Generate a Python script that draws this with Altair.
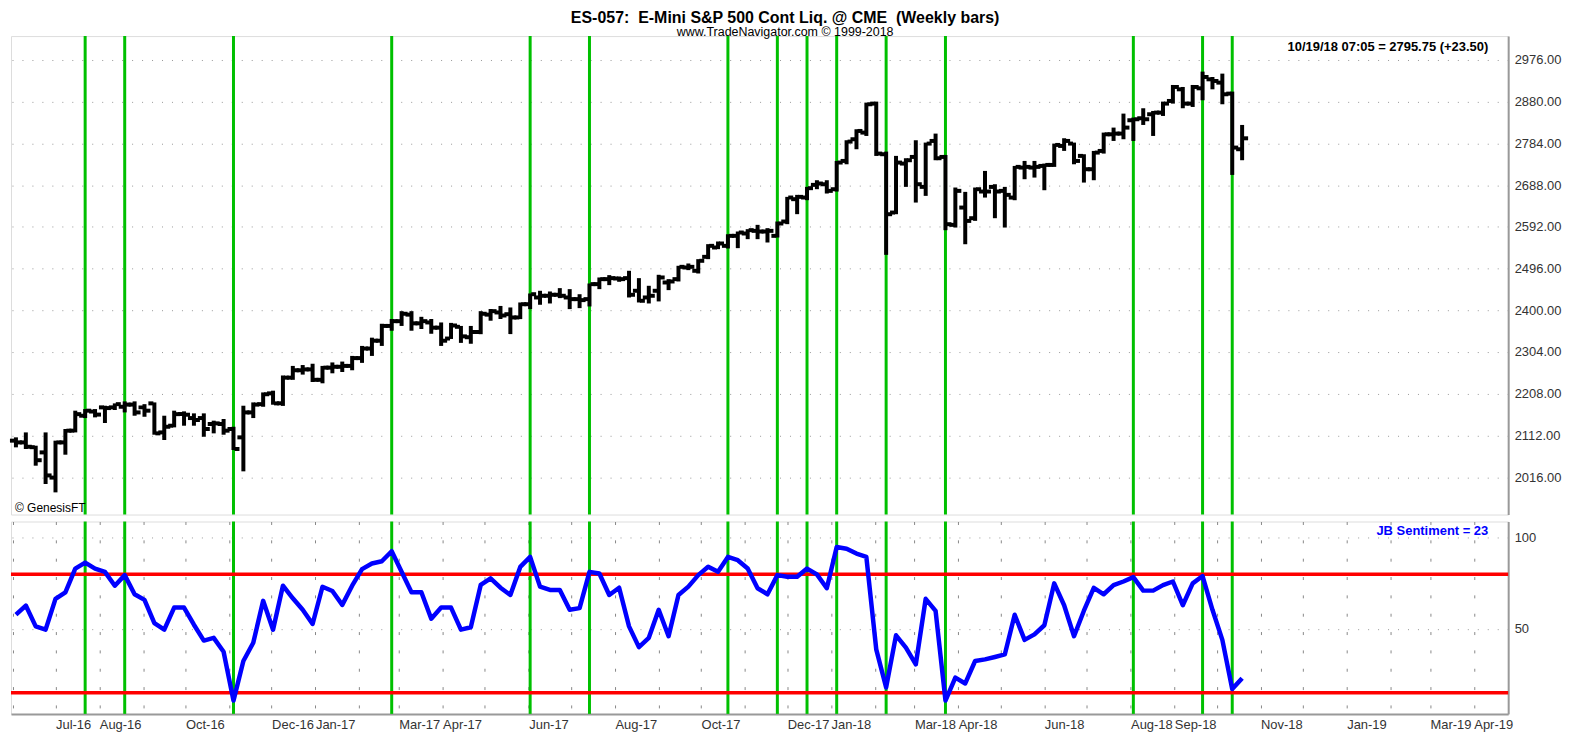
import altair as alt
import pandas as pd

# ---------------- data ----------------
N_BARS = 125
bar_dates = pd.date_range(end="2018-10-19", periods=N_BARS, freq="7D").strftime("%Y-%m-%d").tolist()

opens = [2100, 2096, 2085, 2073, 2015, 2096, 2123, 2157.4, 2167, 2176.6,
         2176.6, 2178, 2183, 2176.6, 2185.8, 2119, 2134.4, 2161.3, 2152, 2152,
         2138.3, 2138.3, 2126.8, 2107.6, 2165, 2184, 2208.8, 2186, 2245, 2262,
         2264, 2240, 2268, 2270, 2272, 2290, 2312, 2330, 2364, 2375,
         2390, 2370, 2372, 2360, 2335, 2362, 2338, 2350, 2390, 2395,
         2391, 2383.5, 2414, 2429.5, 2433.4, 2435.7, 2429.5, 2425.7, 2425.7, 2460.2,
         2471.7, 2473.2, 2474, 2444.9, 2429.5, 2444.9, 2464, 2471.7, 2498.5, 2490.9,
         2523, 2544.5, 2548.3, 2571.3, 2576.7, 2582.8, 2581.3, 2571.3, 2604.3, 2655.7,
         2659.5, 2688.6, 2690, 2678.6, 2743.7, 2793.6, 2808.9, 2875.6, 2759.1, 2624.9,
         2737.6, 2752.9, 2684, 2789.7, 2752.9, 2596.6, 2636.4, 2611.9, 2673.3, 2683.9,
         2674.8, 2659.4, 2728.4, 2728.4, 2732.2, 2734.5, 2778.2, 2783.6, 2755.3, 2724.6,
         2766.7, 2805, 2806.6, 2837.3, 2841.9, 2851.1, 2854.9, 2881.7, 2908.5, 2875.6,
         2910.8, 2931.5, 2923.9, 2898.6, 2770.6]
highs = [2107.6, 2119, 2088.4, 2119, 2100, 2126.8, 2169, 2172.7, 2172.7, 2180.4,
         2185.8, 2190.4, 2190.4, 2184, 2188, 2157.4, 2169, 2167.4, 2162.8, 2162.8,
         2146, 2149.8, 2132, 2180.4, 2188, 2211, 2215, 2250, 2272, 2274,
         2277, 2272, 2280, 2282, 2295, 2318, 2337, 2369, 2380, 2398,
         2398, 2385, 2380, 2372, 2371, 2364, 2364, 2398, 2403, 2410,
         2406.5, 2418, 2438.7, 2444.9, 2443.3, 2451, 2448.7, 2437, 2461.7, 2475.5,
         2480.9, 2477.8, 2490.9, 2474, 2456.4, 2481.7, 2471.7, 2502.4, 2507.7, 2517.7,
         2552.2, 2558.3, 2575, 2581.3, 2586.7, 2596.6, 2589, 2604.3, 2661, 2665.6,
         2684, 2699.3, 2699.3, 2743.7, 2791.3, 2816.6, 2877.9, 2880.2, 2765.2, 2755.3,
         2749.9, 2791.3, 2785.9, 2806.6, 2757.5, 2682.5, 2672.5, 2682.5, 2720.7, 2690.1,
         2684, 2732.2, 2743.7, 2743.7, 2737.6, 2783.6, 2795.9, 2785.9, 2759.1, 2766.7,
         2808.9, 2820.4, 2852.6, 2843.4, 2864.9, 2858.7, 2880.2, 2918.5, 2913.9, 2918.5,
         2949.2, 2936.9, 2944.6, 2903.2, 2826.5]
lows = [2084.6, 2080.8, 2042.4, 2000.3, 1981, 2067.7, 2119, 2152, 2153.6, 2140.6,
        2170.5, 2165, 2157.4, 2155, 2113.7, 2101.5, 2130.6, 2134.4, 2134.4, 2109,
        2116.8, 2113.7, 2078.5, 2029.4, 2152, 2178, 2182.7, 2180, 2240, 2252,
        2235, 2232, 2255, 2258, 2262, 2279, 2295, 2318, 2353, 2364,
        2353, 2357, 2346, 2318, 2334, 2325, 2323, 2345, 2376, 2380,
        2345.2, 2379.7, 2402.7, 2412.7, 2415.7, 2428, 2402.7, 2405, 2408.8, 2448.7,
        2457.9, 2465.6, 2429.5, 2418, 2415.7, 2420.4, 2446.4, 2466.3, 2492.4, 2484.7,
        2517.7, 2540.7, 2542.2, 2543, 2563.7, 2563.7, 2556, 2567.5, 2598.2, 2621.2,
        2653.4, 2678.7, 2668.7, 2673.2, 2736, 2770.6, 2801.2, 2755.2, 2527.6, 2621.1,
        2684, 2647.9, 2663.3, 2745.3, 2584.3, 2590.4, 2552, 2605.8, 2659.4, 2611.9,
        2590.4, 2653.3, 2701.6, 2705.4, 2676.3, 2730, 2766.8, 2736, 2693.9, 2699.3,
        2760.6, 2789.7, 2793.6, 2789.7, 2826.5, 2801.2, 2847.2, 2875.6, 2864.9, 2867.9,
        2883.3, 2908.5, 2874.1, 2711.5, 2745.3]
closes = [2096, 2086, 2055, 2020, 2096, 2123, 2161, 2169, 2160, 2175,
          2184, 2183, 2165, 2169, 2116.8, 2132, 2161, 2159.7, 2147.5, 2126.8,
          2139.8, 2123, 2080.8, 2165, 2183, 2207, 2185.8, 2245, 2262, 2264,
          2240, 2268, 2270, 2272, 2290, 2312, 2330, 2364, 2375, 2392,
          2370, 2375, 2360, 2330, 2365, 2340, 2350, 2392, 2398, 2388,
          2383.5, 2414, 2437, 2433.4, 2435.7, 2433.4, 2425.7, 2423.4, 2460.2, 2471.7,
          2474, 2471.7, 2435.7, 2421.9, 2433.4, 2475.5, 2466.3, 2500, 2500, 2513.9,
          2548.3, 2553.7, 2571.3, 2579, 2584.4, 2581.3, 2582.8, 2599.7, 2659.5, 2661,
          2681, 2691.7, 2674.8, 2740, 2788.2, 2812.7, 2874.1, 2760.6, 2621.1, 2739.9,
          2745.3, 2690.1, 2783.6, 2749.9, 2598.1, 2674.8, 2605.7, 2678.6, 2673.3, 2673.3,
          2665.6, 2730, 2730, 2730, 2734.5, 2780.5, 2789.7, 2743.7, 2724.6, 2762.9,
          2805, 2806.6, 2820.4, 2839.6, 2839.6, 2854.9, 2875.6, 2913.9, 2875.6, 2913.9,
          2936.9, 2927.7, 2897.1, 2774.4, 2795.75]

sentiment = [57.8, 62.8, 51.4, 49.6, 66.5, 70.1, 83.1, 86.4, 83.1, 81.3,
             73.7, 79.5, 69.0, 65.9, 53.2, 49.6, 61.7, 61.7, 52.3, 43.6,
             45.1, 37.5, 10.7, 32.4, 42.4, 65.4, 49.6, 73.7, 66.8, 60.5,
             52.7, 73.1, 70.8, 63.2, 73.7, 82.8, 85.9, 87.1, 92.6, 81.3,
             70.1, 70.1, 55.6, 61.7, 61.7, 49.6, 50.9, 74.1, 77.7, 72.6,
             68.6, 84.0, 89.5, 73.2, 71.4, 71.4, 60.5, 61.4, 81.3, 80.4,
             68.6, 72.6, 51.4, 40.0, 45.1, 60.5, 46.0, 68.6, 73.2, 79.5,
             84.1, 81.3, 89.5, 87.7, 83.1, 72.3, 69.0, 79.5, 78.6, 78.6,
             83.1, 79.9, 72.3, 94.9, 94.0, 91.3, 89.5, 38.8, 17.9, 46.5,
             39.7, 30.6, 66.5, 59.9, 10.7, 23.3, 20.1, 32.4, 33.3, 34.6,
             36.0, 57.8, 44.0, 47.0, 52.0, 75.0, 63.0, 46.0, 60.0, 72.5,
             69.0, 74.0, 76.0, 78.4, 71.0, 71.0, 74.0, 76.0, 63.0, 75.0,
             79.0, 60.5, 44.0, 17.0, 23.0]

signal_dates = ["2016-07-22", "2016-08-19", "2016-11-04", "2017-02-24", "2017-06-02",
                "2017-07-14", "2017-10-20", "2017-11-24", "2017-12-15", "2018-01-05",
                "2018-02-09", "2018-03-23", "2018-08-03", "2018-09-21", "2018-10-12"]

band_levels = [80, 15]
price_ticks = [2016, 2112, 2208, 2304, 2400, 2496, 2592, 2688, 2784, 2880, 2976]
sentiment_ticks = [50, 100]
label_months = ["Jul-16", "Aug-16", "Oct-16", "Dec-16", "Jan-17", "Mar-17", "Apr-17",
                "Jun-17", "Aug-17", "Oct-17", "Dec-17", "Jan-18", "Mar-18", "Apr-18",
                "Jun-18", "Aug-18", "Sep-18", "Nov-18", "Jan-19", "Mar-19", "Apr-19"]

NB = "\u00a0"
title_text = "ES-057:" + NB + NB + "E-Mini S&P 500 Cont Liq. @ CME" + NB + NB + "(Weekly bars)"
subtitle_text = "www.TradeNavigator.com \u00a9 1999-2018"
quote_text = "10/19/18 07:05 = 2795.75 (+23.50)"
indicator_text = "JB Sentiment = 23"
credit_text = "\u00a9 GenesisFT"

# ---------------- frames ----------------
ohlc = pd.DataFrame({"date": bar_dates, "open": opens, "high": highs,
                     "low": lows, "close": closes})
sent = pd.DataFrame({"date": bar_dates, "value": sentiment})
signals = pd.DataFrame({"date": signal_dates})
bands = pd.DataFrame({"level": band_levels})


def ms(s):
    return int(pd.Timestamp(s, tz="UTC").value // 10**6)


month_values = [ms(d) for d in pd.date_range("2016-06-01", "2019-04-01", freq="MS")]
x_domain = [ms("2016-05-30T12:00"), ms("2019-04-25T08:00")]

W = 1502
H_TOP = 480
H_BOT = 193
FONT = "Liberation Sans"
GREEN = "#00c000"

xscale = alt.Scale(type="utc", domain=x_domain, nice=False)
label_list = "[" + ",".join("'%s'" % m for m in label_months) + "]"

x_top = alt.X("date:T", scale=xscale, axis=None)
x_bot = alt.X("date:T", scale=xscale, title=None,
              axis=alt.Axis(values=month_values, formatType="utc", format="%b-%y",
                            labelExpr="indexof(%s, utcFormat(datum.value, '%%b-%%y')) >= 0 ? utcFormat(datum.value, '%%b-%%y') : ''" % label_list,
                            labelAlign="left", labelOverlap=False, labelFlush=False,
                            labelFont=FONT, labelFontSize=13, labelColor="#333",
                            labelPadding=5, ticks=False,
                            domainColor="#999", domainWidth=2,
                            grid=True, gridColor="#888", gridWidth=1, gridDash=[3, 15.4]))

yscale_top = alt.Scale(domain=[1930, 3031], nice=False, zero=False)
yaxis_top = alt.Axis(orient="right", values=price_ticks, format=".2f", title=None,
                     labelFont=FONT, labelFontSize=13, labelColor="#333", labelPadding=6,
                     ticks=False, domainColor="#999", domainWidth=2,
                     grid=True, gridColor="#999", gridDash=[1, 9], gridWidth=1)

# ---------------- top panel ----------------
green_top = alt.Chart(signals).mark_rule(color=GREEN, strokeWidth=3).encode(x=x_top)
hl = alt.Chart(ohlc).mark_rule(color="black", strokeWidth=4).encode(
    x=x_top, y=alt.Y("low:Q", scale=yscale_top, axis=yaxis_top), y2="high:Q")
op = alt.Chart(ohlc).mark_tick(color="black", orient="horizontal", size=5, thickness=4,
                               xOffset=-3.5, opacity=1).encode(
    x=x_top, y=alt.Y("open:Q", scale=yscale_top))
cl = alt.Chart(ohlc).mark_tick(color="black", orient="horizontal", size=5, thickness=4,
                               xOffset=3.5, opacity=1).encode(
    x=x_top, y=alt.Y("close:Q", scale=yscale_top))
quote = alt.Chart(pd.DataFrame({"t": [quote_text]})).mark_text(
    font=FONT, fontSize=13, fontWeight="bold", color="black", align="right",
    baseline="middle").encode(x=alt.value(W - 20), y=alt.value(11), text="t:N")
credit = alt.Chart(pd.DataFrame({"t": [credit_text]})).mark_text(
    font=FONT, fontSize=12, color="black", align="left",
    baseline="middle").encode(x=alt.value(4), y=alt.value(H_TOP - 7), text="t:N")

top = alt.layer(green_top, hl, op, cl, quote, credit).properties(width=W, height=H_TOP)

# ---------------- bottom panel ----------------
yscale_bot = alt.Scale(domain=[3.4, 108.9], nice=False, zero=False)
yaxis_bot = alt.Axis(orient="right", values=sentiment_ticks, title=None,
                     labelFont=FONT, labelFontSize=13, labelColor="#333", labelPadding=6,
                     ticks=False, domainColor="#999", domainWidth=2,
                     grid=True, gridColor="#999", gridDash=[1, 9], gridWidth=1)

green_bot = alt.Chart(signals).mark_rule(color=GREEN, strokeWidth=3).encode(x=x_bot)
red = alt.Chart(bands).mark_rule(color="#ff0000", strokeWidth=3.5).encode(
    y=alt.Y("level:Q", scale=yscale_bot, axis=yaxis_bot))
line = alt.Chart(sent).mark_line(color="#0000ff", strokeWidth=4.5, strokeJoin="round").encode(
    x=x_bot, y=alt.Y("value:Q", scale=yscale_bot, axis=yaxis_bot))
ind = alt.Chart(pd.DataFrame({"t": [indicator_text]})).mark_text(
    font=FONT, fontSize=13, fontWeight="bold", color="#0000ff", align="right",
    baseline="middle").encode(x=alt.value(W - 20), y=alt.value(10), text="t:N")

bottom = alt.layer(green_bot, red, line, ind).properties(width=W, height=H_BOT)

chart = alt.vconcat(top, bottom, spacing=3).properties(
    padding=0,
    title=alt.TitleParams(text=title_text, subtitle=subtitle_text, anchor="middle",
                          font=FONT, fontSize=16, fontWeight="bold", color="black",
                          subtitleFont=FONT, subtitleFontSize=12.5, subtitleColor="black",
                          subtitlePadding=0, offset=-4, frame="bounds")
).configure_view(stroke="#999", strokeWidth=1).configure(background="white")

chart.save("out.html", embed_options={"renderer": "svg", "actions": False})
